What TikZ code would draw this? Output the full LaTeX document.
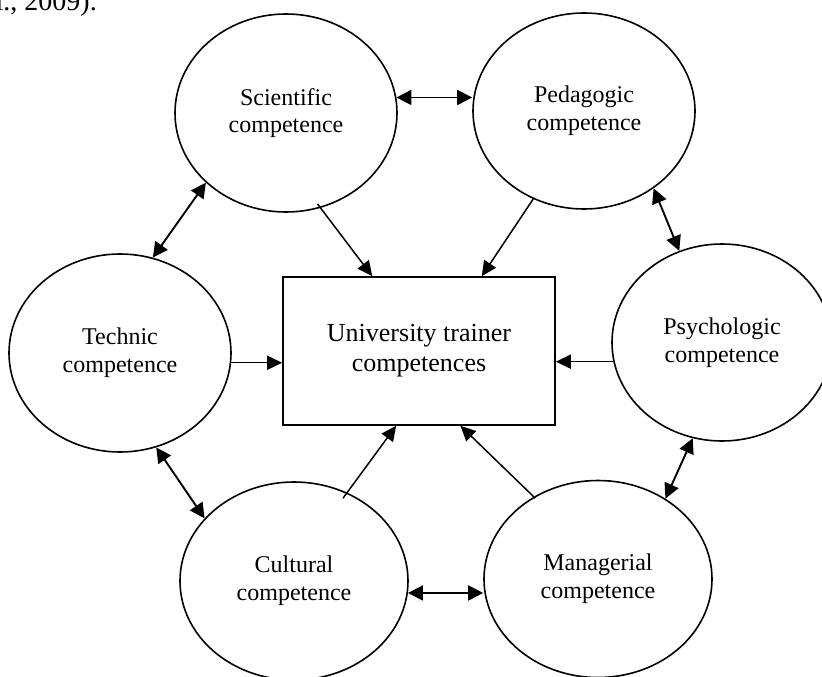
\documentclass[tikz,border=0pt]{standalone}
\usepackage{fontspec}
\setmainfont{Liberation Serif}
\usetikzlibrary{arrows.meta,shapes.geometric}
\begin{document}
\begin{tikzpicture}[x=1pt,y=-1pt,
  comp/.style={ellipse,draw,line width=1.6pt,inner sep=0pt,align=center,
    font=\fontsize{24}{27.6}\selectfont},
  centrebox/.style={rectangle,draw,line width=1.6pt,inner sep=0pt,
    minimum width=272pt,minimum height=148pt,align=center,
    font=\fontsize{26}{30}\selectfont},
  both/.style={line width=1.9pt,
    {Triangle[length=15pt,width=15pt]}-{Triangle[length=15pt,width=15pt]}},
  into/.style={line width=1.5pt,-{Triangle[length=15pt,width=14pt]}}]
\clip (0,0) rectangle (822,677);
\node[anchor=base east,inner sep=0pt,font=\fontsize{28}{32}\selectfont] (cite) at (97,11) {al., 2009).};
\node[comp,minimum width=222pt,minimum height=198pt] (sci) at (286,113) {Scientific\\competence};
\node[comp,minimum width=222pt,minimum height=196pt] (ped) at (584,111) {Pedagogic\\competence};
\node[comp,minimum width=222pt,minimum height=198pt] (tech) at (120,353) {Technic\\competence};
\node[comp,minimum width=220pt,minimum height=197pt] (psy) at (722,342.5) {Psychologic\\competence};
\node[comp,minimum width=228pt,minimum height=198pt] (cult) at (294,581) {Cultural\\competence};
\node[comp,minimum width=228pt,minimum height=197pt] (man) at (598,579) {Managerial\\competence};
\node[centrebox] (box) at (419,351) {University trainer\\competences};
% double arrows around the ring
\draw[both] (sci.8) -- (sci.8 -| ped.west);
\draw[both] (sci.-139) -- (tech.71);
\draw[both] (tech.-69) -- (cult.145);
\draw[both] (cult.-6) -- (cult.-6 -| man.west);
\draw[both] (man.50) -- (psy.-107);
\draw[both] (ped.-48) -- (psy.115);
% arrows into the centre box
\draw[into,shorten <=-5pt] (sci.-70) -- (box.122);
\draw[into] (ped.-120) -- (box.50);
\draw[into] (tech.-5) -- (tech.-5 -| box.west);
\draw[into] (psy.-170) -- (psy.-170 -| box.east);
\draw[into,shorten <=-7pt] (cult.59) -- (box.-107);
\draw[into,shorten <=-2pt] (man.128) -- (box.-61);
\end{tikzpicture}
\end{document}
